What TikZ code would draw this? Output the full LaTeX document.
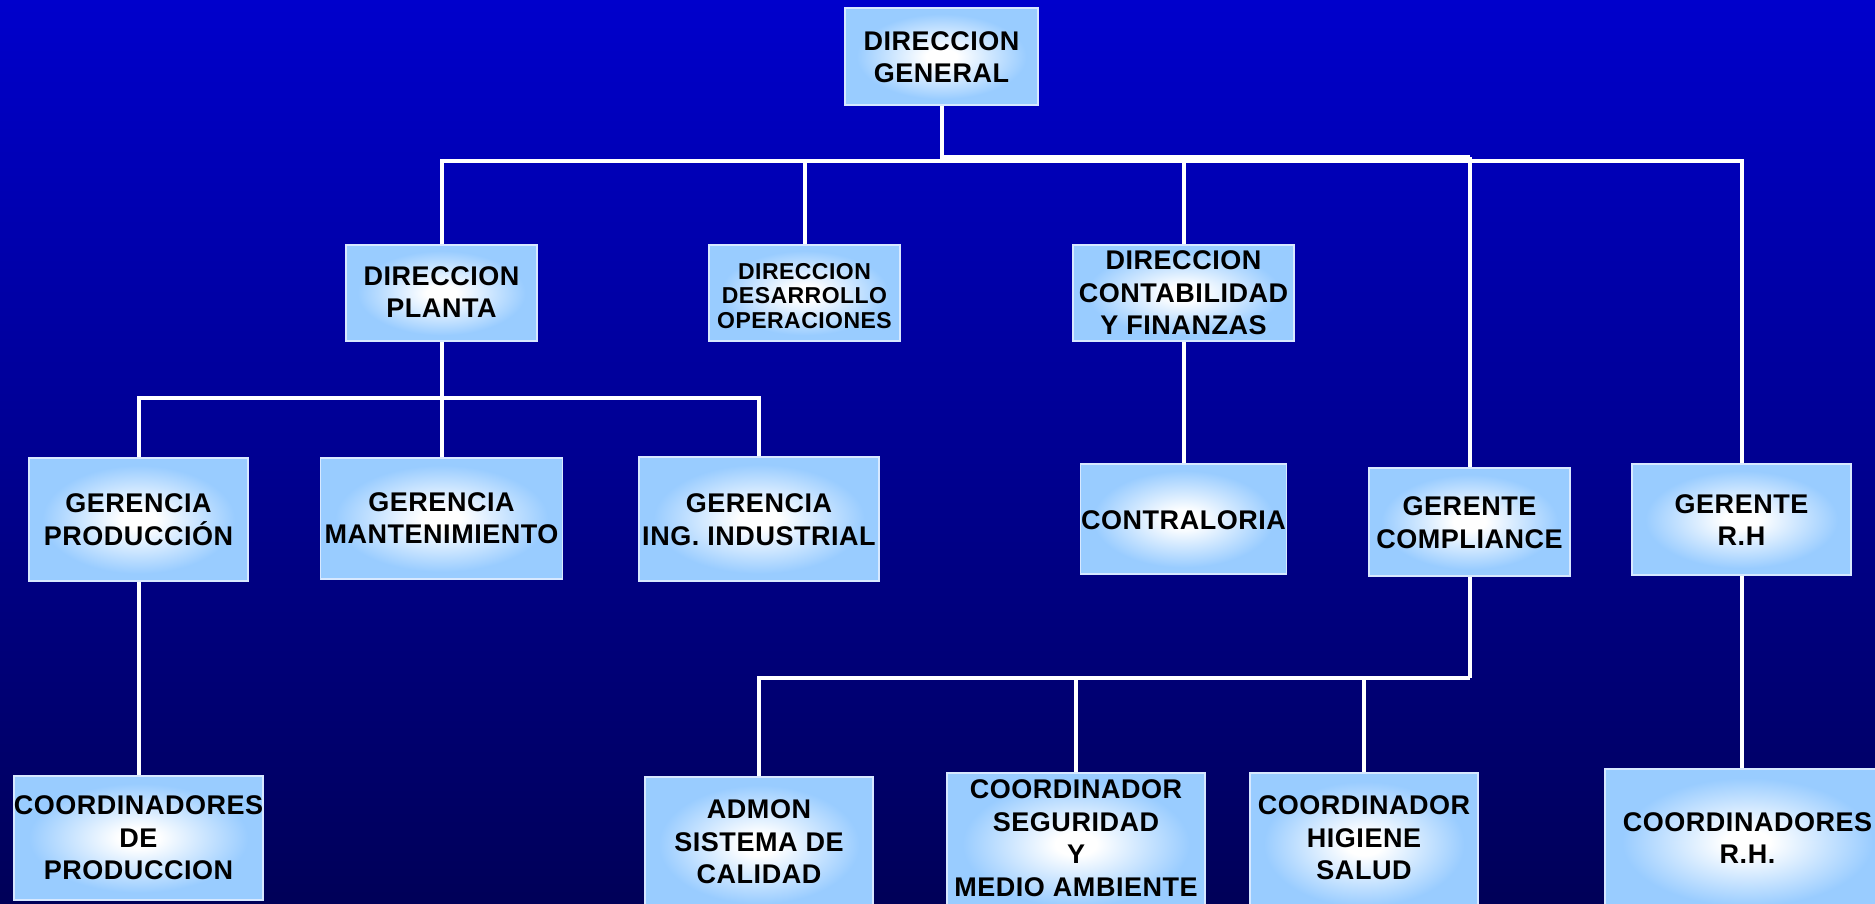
\documentclass[tikz,border=0pt]{standalone}
\usepackage{fontspec}
\setmainfont{Liberation Sans}[LetterSpace=2]
\definecolor{boxblue}{RGB}{153,204,255}
\definecolor{boxedge}{RGB}{215,232,255}
\definecolor{bgtop}{RGB}{0,0,204}
\definecolor{bgbot}{RGB}{0,0,88}
\pgfdeclareradialshading{boxglow}{\pgfpoint{0bp}{0bp}}{color(0bp)=(white); color(4bp)=(white); color(22bp)=(boxblue); color(50bp)=(boxblue)}
\tikzset{
  box/.style={rectangle, draw=boxedge, line width=1.2pt, shade, shading=boxglow, inner sep=0pt},
  lbl/.style={align=center, font=\bfseries\fontsize{27}{32.5}\selectfont, text=black, inner sep=0pt},
  small/.style={font=\bfseries\fontsize{23}{24.5}\selectfont},
  link/.style={draw=white, line width=4pt}
}
\begin{document}
\begin{tikzpicture}[x=1pt,y=-1pt]
\useasboundingbox (0,0) rectangle (1875,903);
\clip (0,0) rectangle (1875,903);
\shade[top color=bgtop, bottom color=bgbot] (0,0) rectangle (1875,903);

% boxes
\node[box, minimum width=193, minimum height=97] (dg) at (941.5,56.5) {};
\node[box, minimum width=191, minimum height=96] (dp) at (441.5,293) {};
\node[box, minimum width=191, minimum height=96] (ddo) at (804.5,293) {};
\node[box, minimum width=221, minimum height=96] (dcf) at (1183.5,293) {};
\node[box, minimum width=219, minimum height=123] (gp) at (138.5,519.5) {};
\node[box, minimum width=242, minimum height=121] (gm) at (441.5,518.5) {};
\node[box, minimum width=240, minimum height=124] (gii) at (759,519) {};
\node[box, minimum width=206, minimum height=110] (contra) at (1183.5,519) {};
\node[box, minimum width=201, minimum height=108] (gc) at (1469.5,522) {};
\node[box, minimum width=219, minimum height=111] (grh) at (1741.5,519.5) {};
\node[box, minimum width=249, minimum height=124] (cp) at (138.5,838) {};
\node[box, minimum width=228, minimum height=135] (admon) at (759,844.5) {};
\node[box, minimum width=258, minimum height=142] (csma) at (1076,844) {};
\node[box, minimum width=228, minimum height=142] (chs) at (1364,844) {};
\node[box, minimum width=285, minimum height=146] (crh) at (1747.5,842) {};

% labels
\node[lbl] (dgt) at (941.5,57) {DIRECCION\\GENERAL};
\node[lbl] (dpt) at (441.5,292) {DIRECCION\\PLANTA};
\node[lbl, small] (ddot) at (804.5,296) {DIRECCION\\DESARROLLO\\OPERACIONES};
\node[lbl] (dcft) at (1183.5,293) {DIRECCION\\CONTABILIDAD\\Y FINANZAS};
\node[lbl] (gpt) at (138.5,519.5) {GERENCIA\\PRODUCCIÓN};
\node[lbl] (gmt) at (441.5,518) {GERENCIA\\MANTENIMIENTO};
\node[lbl] (giit) at (759,519.5) {GERENCIA\\ING. INDUSTRIAL};
\node[lbl] (contrat) at (1183.5,520) {CONTRALORIA};
\node[lbl] (gct) at (1469.5,522.5) {GERENTE\\COMPLIANCE};
\node[lbl] (grht) at (1741.5,520) {GERENTE\\R.H};
\node[lbl] (cpt) at (138.5,838) {COORDINADORES\\DE\\PRODUCCION};
\node[lbl] (admont) at (759,842) {ADMON\\SISTEMA DE\\CALIDAD};
\node[lbl] (csmat) at (1076,838) {COORDINADOR\\SEGURIDAD\\Y\\MEDIO AMBIENTE};
\node[lbl] (chst) at (1364,838) {COORDINADOR\\HIGIENE\\SALUD};
\node[lbl] (crht) at (1747.5,838) {COORDINADORES\\R.H.};

% connectors
\coordinate (b1) at (941.5,161);
\coordinate (b1b) at (941.5,157);
\draw[link] (dg.south) -- (b1);
\draw[link] (dp.north) |- (b1) -| (grh.north);
\draw[link] (b1b) -- (b1b -| gc.north);
\draw[link] (ddo.north) -- (ddo.north |- b1);
\draw[link] (dcf.north) -- (dcf.north |- b1);
\draw[link] (gc.north) -- (gc.north |- b1b);

\coordinate (b2) at (441.5,398);
\draw[link] (dp.south) -- (b2);
\draw[link] (gp.north) |- (b2) -| (gii.north);
\draw[link] (gm.north) -- (gm.north |- b2);

\draw[link] (dcf.south) -- (contra.north);
\draw[link] (gp.south) -- (cp.north -| gp.south);

\coordinate (b3) at (1469.5,678);
\draw[link] (gc.south) -- (b3);
\draw[link] (admon.north) |- (b3);
\draw[link] (csma.north) -- (csma.north |- b3);
\draw[link] (chs.north) -- (chs.north |- b3);

\draw[link] (grh.south) -- (grh.south |- crh.north);
\end{tikzpicture}
\end{document}
